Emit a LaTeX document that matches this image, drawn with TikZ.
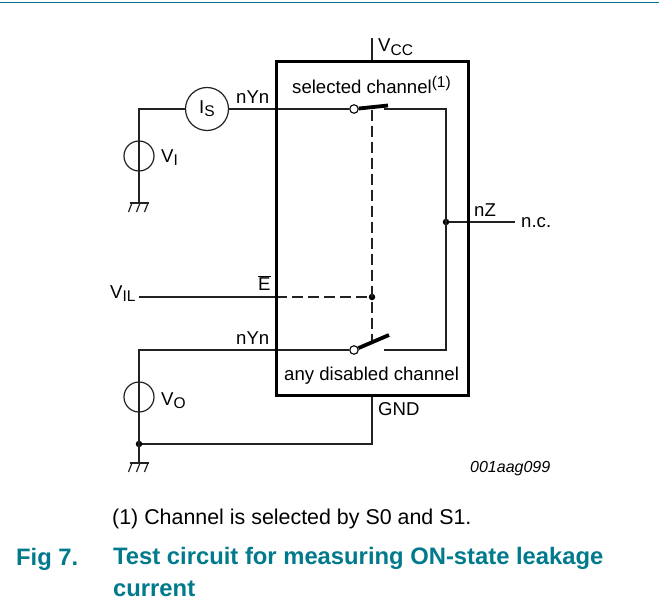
\documentclass[tikz,border=0pt]{standalone}
\usepackage{fontspec}
\setmainfont{Liberation Sans}

\definecolor{capteal}{HTML}{007A8C}
\definecolor{wirecol}{HTML}{222222}

% lowered index as the sheet prints it
\newcommand{\lowidx}[1]{\raisebox{-0.32ex}{\fontsize{15.5}{15.5}\selectfont #1}}
\newcommand{\highidx}[1]{\raisebox{0.62ex}{\fontsize{15.5}{15.5}\selectfont #1}}

\tikzset{
    wire/.style={draw=wirecol, line width=1.2pt},
    ctrl/.style={draw=wirecol, line width=1.2pt, dash pattern=on 11pt off 5pt},
    blade/.style={draw=black, line width=3.8pt},
    srcring/.style={circle, draw=wirecol, line width=1.2pt, minimum size=30pt, inner sep=0pt},
    pinhole/.style={circle, draw=black, fill=white, line width=1.1pt, minimum size=8.5pt, inner sep=0pt},
    junction/.style={circle, fill=black, minimum size=6.5pt, inner sep=0pt},
    lbl/.style={anchor=base west, inner sep=0pt, font=\fontsize{18.6}{21}\selectfont},
    earth/.pic={
        \draw[wire] (-9.5,0) -- (9.5,0);
        \foreach \i in {-7,1,9} {
            \draw[wire] (\i,0) -- (\i-3.5,9);
        }
    }
}

\begin{document}
\begin{tikzpicture}[x=1pt, y=-1pt]

    \useasboundingbox (0,0) rectangle (659,610);

    % Rule on top of the page
    \coordinate (ruleL) at (0,2.5);
    \coordinate (ruleR) at (659,2.5);
    \draw[capteal, line width=1.6pt] (ruleL) -- (ruleR);

    % Points of the circuit
    \coordinate (topcorner) at (139,109);
    \coordinate (inpin) at (276,109);
    \coordinate (lowcorner) at (139,350);
    \coordinate (lowpin) at (276,350);
    \coordinate (gndI) at (139,203);
    \coordinate (gndO) at (139,463);
    \coordinate (vccend) at (372,38);
    \coordinate (vccpin) at (372,62);
    \coordinate (gndpin) at (372,395);
    \coordinate (ilend) at (139,297);
    \coordinate (ilpin) at (276,297);
    \coordinate (busTop) at (446,109);
    \coordinate (busLow) at (446,350);
    \coordinate (ncend) at (515,222);
    \coordinate (selOut) at (384,109);
    \coordinate (disOut) at (384,350);
    \coordinate (selTip) at (388,105.5);
    \coordinate (disTip) at (389,335);
    \coordinate (ctrlTop) at (372,110);
    \coordinate (ctrlLow) at (372,342);

    \node[srcring, minimum size=43pt] (Is) at (207,109) {};
    \node[srcring] (Vi) at (139,156) {};
    \node[srcring] (Vo) at (139,397) {};
    \node[junction] (nzdot) at (446,222) {};
    \node[junction] (ctrldot) at (372,297) {};
    \node[junction] (gnddot) at (139,444) {};

    % Control line, below the blades
    \draw[ctrl] (ctrlTop) -- (ctrlLow);
    \draw[ctrl] (ilpin) -- (ctrldot);

    % Wires on the left
    \draw[wire] (Is) -- (topcorner) -- (gndI);
    \draw[wire] (Is) -- (inpin);
    \draw[wire] (ilend) -- (ilpin);
    \draw[wire] (lowpin) -- (lowcorner) -- (gndO);
    \draw[wire] (gnddot) -| (gndpin);
    \draw[wire] (vccend) -- (vccpin);

    \pic at (gndI) {earth};
    \pic at (gndO) {earth};

    % Channels
    \node[pinhole] (selHole) at (354,109) {};
    \node[pinhole] (disHole) at (354,350) {};
    \draw[wire] (inpin) -- (selHole);
    \draw[wire] (lowpin) -- (disHole);
    \draw[wire] (selOut) -- (busTop) -- (busLow) -- (disOut);
    \draw[wire] (nzdot) -- (ncend);
    \draw[blade] (selHole) -- (selTip);
    \draw[blade] (disHole) -- (disTip);

    % The package outline
    \draw[black, line width=3pt] (276,62) rectangle (468,395);

    % Labels
    \node[lbl] (lblVcc) at (378,52) {V\lowidx{CC}};
    \node[lbl] (lblSel) at (292,94) {selected channel\highidx{(1)}};
    \node[lbl] (lblInY) at (236,103) {nYn};
    \node[lbl, anchor=center] (lblIs) at (207,109) {I\lowidx{S}};
    \node[lbl] (lblVi) at (161,162) {V\lowidx{I}};
    \node[lbl] (lblZ) at (474,216) {nZ};
    \node[lbl] (lblNc) at (521,227) {n.c.};
    \node[lbl] (lblE) at (258,290) {$\overline{\mbox{E}}$};
    \node[lbl] (lblVil) at (110,298) {V\lowidx{IL}};
    \node[lbl] (lblLowY) at (236,344) {nYn};
    \node[lbl] (lblDis) at (284,380) {any disabled channel};
    \node[lbl] (lblVo) at (161,405) {V\lowidx{O}};
    \node[lbl] (lblGnd) at (378,415) {GND};
    \node[lbl, font=\fontsize{16}{18}\selectfont\itshape] (lblCode) at (470,472) {001aag099};

    % Caption
    \node[lbl, font=\fontsize{21.4}{24}\selectfont] (note) at (112,524) {(1) Channel is selected by S0 and S1.};
    \node[lbl, font=\fontsize{23.8}{28}\selectfont\bfseries, text=capteal] (figno) at (16,565) {Fig 7.};
    \node[lbl, anchor=north west, align=left, font=\fontsize{23.8}{32}\selectfont\bfseries, text=capteal] (figtitle) at (113,547) {Test circuit for measuring ON-state leakage\\current};

\end{tikzpicture}
\end{document}
